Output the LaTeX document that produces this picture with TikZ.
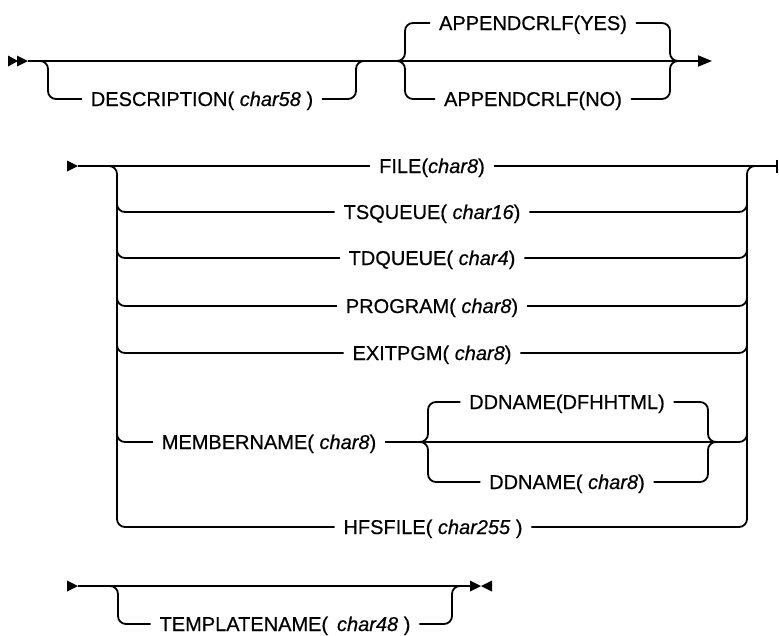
\documentclass[tikz,border=0pt]{standalone}
\usepackage{fontspec}
\setmainfont{Liberation Sans}[FakeBold=0.5]
\usetikzlibrary{arrows.meta}
\begin{document}
\begin{tikzpicture}[x=1pt,y=-1pt, line width=1.8pt,
  lbl/.style={inner xsep=8pt, inner ysep=0pt, text height=14pt, text depth=0pt, font=\fontsize{20}{22}\selectfont},
  rail/.style={draw, rounded corners=8pt},
  endtip/.style={-{Triangle[length=14pt,width=11pt]}}]
\useasboundingbox (0,0) rectangle (779,635);

% ---------- Row 1 ----------
\coordinate (r1s) at (28,61);
\coordinate (r1e) at (712,61);
\fill (8,55.5) -- (18,61) -- (8,66.5) -- cycle;
\fill (17,55.5) -- (28,61) -- (17,66.5) -- cycle;
\node[lbl] (desc) at (202,99) {DESCRIPTION( \textit{char58} )};
\node[lbl] (yes) at (533,23) {APPENDCRLF(YES)};
\node[lbl] (no) at (533,99) {APPENDCRLF(NO)};
\draw[endtip] (r1s) -- (r1e);
\draw[rail] (38,61) -- (48,61) -- (48,99) -- (desc.west);
\draw[rail] (desc.east) -- (356,99) -- (356,61) -- (366,61);
\draw[rail] (yes.west) -- (405,23) -- (405,61) -- (397,61);
\draw[rail] (no.west) -- (405,99) -- (405,61) -- (397,61);
\draw[rail] (yes.east) -- (670,23) -- (670,61) -- (678,61);
\draw[rail] (no.east) -- (670,99) -- (670,61) -- (678,61);

% ---------- Row 2 ----------
\coordinate (r2s) at (78,166);
\coordinate (r2e) at (777,166);
\fill (67,160.5) -- (78,166) -- (67,171.5) -- cycle;
\node[lbl] (file) at (432,166) {FILE(\textit{char8})};
\node[lbl] (tsq) at (432,212) {TSQUEUE( \textit{char16})};
\node[lbl] (tdq) at (432,258) {TDQUEUE( \textit{char4})};
\node[lbl] (prog) at (432,306) {PROGRAM( \textit{char8})};
\node[lbl] (exit) at (432,353) {EXITPGM( \textit{char8})};
\node[lbl] (memb) at (269,442) {MEMBERNAME( \textit{char8})};
\node[lbl] (ddn1) at (567,402) {DDNAME(DFHHTML)};
\node[lbl] (ddn2) at (567,482) {DDNAME( \textit{char8})};
\node[lbl] (hfs) at (433,527) {HFSFILE( \textit{char255} )};
\draw (r2s) -- (file.west);
\draw (file.east) -- (r2e);
\draw (777,159.5) -- (777,172.5);
\draw[rail] (105,166) -- (117,166) -- (117,527) -- (hfs.west);
\draw[rail] (hfs.east) -- (747,527) -- (747,166) -- (759,166);
\foreach \n/\y in {tsq/212, tdq/258, prog/306, exit/353} {
  \draw[rail] (117,\y-12) -- (117,\y) -- (\n.west);
  \draw[rail] (\n.east) -- (747,\y) -- (747,\y-12);
}
\draw[rail] (117,430) -- (117,442) -- (memb.west);
\draw (memb.east) -- (420,442) -- (716,442);
\draw[rail] (716,442) -- (747,442) -- (747,430);
\draw[rail] (ddn1.west) -- (428,402) -- (428,442) -- (420,442);
\draw[rail] (ddn2.west) -- (428,482) -- (428,442) -- (420,442);
\draw[rail] (ddn1.east) -- (708,402) -- (708,442) -- (716,442);
\draw[rail] (ddn2.east) -- (708,482) -- (708,442) -- (716,442);

% ---------- Row 3 ----------
\coordinate (r3s) at (78,586);
\coordinate (r3e) at (470,586);
\fill (67,580.5) -- (78,586) -- (67,591.5) -- cycle;
\node[lbl] (tmpl) at (285,624) {TEMPLATENAME(\, \textit{char48} )};
\draw (r3s) -- (r3e);
\draw[rail] (108,586) -- (118,586) -- (118,624) -- (tmpl.west);
\draw[rail] (tmpl.east) -- (452,624) -- (452,586) -- (462,586);
\fill (470,580.5) -- (481,586) -- (470,591.5) -- cycle;
\fill (492,580.5) -- (481,586) -- (492,591.5) -- cycle;
\end{tikzpicture}
\end{document}
